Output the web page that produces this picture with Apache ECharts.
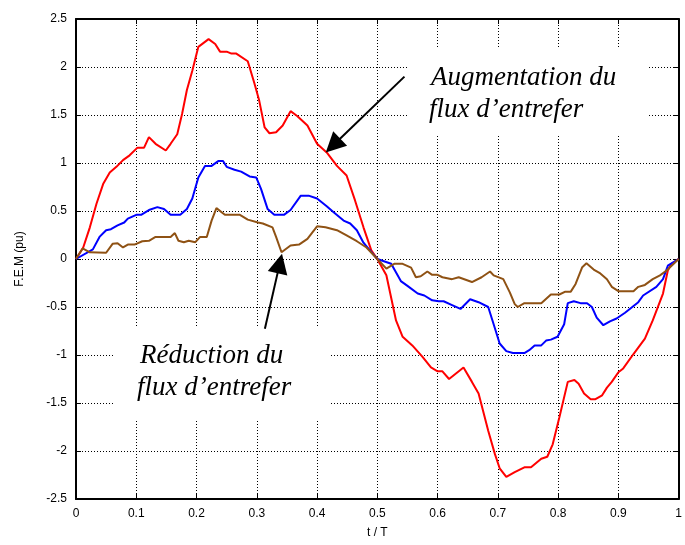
<!DOCTYPE html>
<html><head><meta charset="utf-8">
<script src="https://cdn.jsdelivr.net/npm/echarts/dist/echarts.min.js"></script>
<style>html,body{margin:0;padding:0;background:#fff}#c{width:685px;height:545px}</style>
</head><body><div id="c"></div>
<script>
// ---- data (t/T, F.E.M in pu) ----
const tRed = [0,0.012,0.023,0.034,0.045,0.056,0.067,0.078,0.089,0.102,0.113,0.121,0.132,0.149,0.157,0.168,0.176,0.184,0.193,0.203,0.22,0.231,0.239,0.25,0.258,0.266,0.285,0.296,0.304,0.313,0.321,0.332,0.343,0.356,0.367,0.384,0.40,0.416,0.433,0.449,0.463,0.477,0.49,0.50,0.515,0.531,0.542,0.558,0.575,0.589,0.60,0.608,0.619,0.643,0.657,0.668,0.684,0.695,0.703,0.714,0.728,0.744,0.755,0.772,0.782,0.791,0.802,0.816,0.827,0.834,0.843,0.854,0.862,0.873,0.881,0.889,0.90,0.908,0.925,0.944,0.957,0.974,0.982,0.988,1.0];
const vRed = [0,0.12,0.33,0.575,0.78,0.90,0.96,1.03,1.08,1.16,1.16,1.27,1.20,1.13,1.20,1.30,1.51,1.76,1.96,2.21,2.29,2.24,2.16,2.16,2.14,2.14,2.06,1.83,1.65,1.37,1.31,1.32,1.39,1.54,1.49,1.39,1.20,1.11,0.97,0.87,0.61,0.33,0.09,0,-0.17,-0.64,-0.81,-0.90,-1.02,-1.13,-1.17,-1.17,-1.25,-1.13,-1.28,-1.40,-1.79,-2.03,-2.18,-2.27,-2.22,-2.17,-2.17,-2.08,-2.06,-1.93,-1.65,-1.28,-1.26,-1.30,-1.40,-1.46,-1.46,-1.42,-1.34,-1.28,-1.18,-1.14,-0.99,-0.83,-0.64,-0.36,-0.12,-0.05,0];

const tBlue = [0,0.028,0.039,0.05,0.058,0.069,0.08,0.086,0.10,0.108,0.121,0.135,0.146,0.157,0.173,0.184,0.193,0.203,0.214,0.225,0.236,0.244,0.25,0.263,0.274,0.288,0.299,0.307,0.318,0.329,0.345,0.356,0.373,0.386,0.40,0.416,0.427,0.444,0.455,0.466,0.477,0.493,0.50,0.523,0.539,0.55,0.567,0.578,0.591,0.602,0.61,0.624,0.638,0.654,0.668,0.684,0.693,0.703,0.714,0.725,0.744,0.752,0.761,0.772,0.78,0.788,0.799,0.81,0.816,0.826,0.837,0.848,0.856,0.864,0.875,0.886,0.897,0.911,0.933,0.941,0.963,0.974,0.982,1.0];
const vBlue = [0,0.10,0.23,0.30,0.31,0.35,0.38,0.42,0.46,0.46,0.51,0.54,0.52,0.46,0.46,0.52,0.63,0.85,0.97,0.97,1.02,1.02,0.96,0.93,0.91,0.86,0.85,0.73,0.52,0.46,0.46,0.51,0.66,0.66,0.63,0.55,0.49,0.40,0.37,0.30,0.17,0.05,0,-0.05,-0.23,-0.28,-0.36,-0.38,-0.43,-0.44,-0.44,-0.48,-0.52,-0.42,-0.45,-0.50,-0.68,-0.88,-0.96,-0.98,-0.98,-0.95,-0.90,-0.90,-0.85,-0.84,-0.81,-0.68,-0.46,-0.44,-0.46,-0.46,-0.50,-0.61,-0.69,-0.65,-0.62,-0.56,-0.45,-0.38,-0.29,-0.21,-0.07,0];

const tBrown = [0,0.011,0.023,0.05,0.061,0.069,0.078,0.086,0.097,0.11,0.121,0.132,0.157,0.164,0.17,0.179,0.187,0.198,0.206,0.217,0.225,0.233,0.247,0.258,0.272,0.285,0.302,0.31,0.326,0.332,0.341,0.356,0.37,0.384,0.40,0.414,0.433,0.449,0.466,0.482,0.50,0.515,0.528,0.542,0.556,0.564,0.572,0.583,0.591,0.60,0.608,0.624,0.635,0.657,0.673,0.687,0.693,0.709,0.72,0.728,0.733,0.744,0.772,0.788,0.802,0.812,0.821,0.829,0.84,0.847,0.859,0.87,0.881,0.889,0.90,0.925,0.933,0.944,0.957,0.969,0.98,1.0];
const vBrown = [0,0.11,0.07,0.065,0.16,0.165,0.12,0.15,0.15,0.185,0.19,0.23,0.23,0.27,0.19,0.175,0.19,0.175,0.23,0.23,0.40,0.53,0.46,0.46,0.46,0.41,0.38,0.37,0.33,0.23,0.07,0.14,0.15,0.21,0.34,0.33,0.30,0.245,0.185,0.12,0,-0.10,-0.05,-0.05,-0.09,-0.19,-0.18,-0.13,-0.165,-0.165,-0.19,-0.21,-0.19,-0.24,-0.19,-0.13,-0.17,-0.21,-0.35,-0.47,-0.50,-0.46,-0.46,-0.37,-0.37,-0.34,-0.34,-0.26,-0.085,-0.045,-0.11,-0.15,-0.21,-0.29,-0.335,-0.335,-0.29,-0.27,-0.21,-0.17,-0.12,0];

const xTickLabels = ['0','0.1','0.2','0.3','0.4','0.5','0.6','0.7','0.8','0.9','1'];
const yTickLabels = ['-2.5','-2','-1.5','-1','-0.5','0','0.5','1','1.5','2','2.5'];

// annotations: text lines and arrows (tail -> tip) in data coordinates
const noteUp = ['Augmentation du', 'flux d\u2019entrefer'];
const noteDown = ['R\u00e9duction du', 'flux d\u2019entrefer'];
const arrowUp = [[0.545, 1.90], [0.4144, 1.11]];
const arrowDown = [[0.3134, -0.727], [0.3418, 0.054]];

const pairs = (t, v) => t.map((x, i) => [x, v[i]]);

const chart = echarts.init(document.getElementById('c'), null, {renderer: 'canvas'});
const gridLine = {show: true, lineStyle: {color: '#000', width: 1, type: [1, 2]}};
const axFont = {color: '#000', fontFamily: 'Liberation Sans, Arial, sans-serif', fontSize: 12};

const option = {
  animation: false,
  backgroundColor: '#fff',
  grid: {left: 76, top: 19, width: 610, height: 480, show: false},
  xAxis: [{
    type: 'value', min: 0, max: 1, interval: 0.1,
    axisLine: {show: true, onZero: false, lineStyle: {color: '#000', width: 2}},
    axisTick: {show: true, inside: true, length: 5, lineStyle: {color: '#000', width: 1}},
    axisLabel: Object.assign({margin: 9, formatter: (v) => xTickLabels[Math.round(v * 10)] || ''}, axFont),
    splitLine: gridLine,
    name: 't / T', nameLocation: 'middle', nameGap: 28,
    nameTextStyle: {color: '#000', fontFamily: 'Liberation Sans, Arial, sans-serif', fontSize: 12}
  }, {
    type: 'value', min: 0, max: 1, interval: 0.1, position: 'top',
    axisLine: {show: true, onZero: false, lineStyle: {color: '#000', width: 2}},
    axisTick: {show: true, inside: true, length: 5, lineStyle: {color: '#000'}},
    axisLabel: {show: false}, splitLine: {show: false}
  }],
  yAxis: [{
    type: 'value', min: -2.5, max: 2.5, interval: 0.5,
    axisLine: {show: true, onZero: false, lineStyle: {color: '#000', width: 2}},
    axisTick: {show: true, inside: true, length: 5, lineStyle: {color: '#000', width: 1}},
    axisLabel: Object.assign({margin: 9, formatter: (v) => yTickLabels[Math.round((v + 2.5) * 2)] || ''}, axFont),
    splitLine: gridLine,
    name: 'F.E.M (pu)', nameLocation: 'middle', nameGap: 50,
    nameTextStyle: {color: '#000', fontFamily: 'Liberation Sans, Arial, sans-serif', fontSize: 12}
  }, {
    type: 'value', min: -2.5, max: 2.5, interval: 0.5, position: 'right',
    axisLine: {show: true, onZero: false, lineStyle: {color: '#000', width: 2}},
    axisTick: {show: true, inside: true, length: 5, lineStyle: {color: '#000'}},
    axisLabel: {show: false}, splitLine: {show: false}
  }],
  series: [
    {type: 'line', data: pairs(tRed, vRed), showSymbol: false, lineStyle: {color: '#ff0000', width: 2}, itemStyle: {color: '#ff0000'}, z: 3},
    {type: 'line', data: pairs(tBlue, vBlue), showSymbol: false, lineStyle: {color: '#0000ff', width: 2}, itemStyle: {color: '#0000ff'}, z: 3},
    {type: 'line', data: pairs(tBrown, vBrown), showSymbol: false, lineStyle: {color: '#8f5214', width: 2}, itemStyle: {color: '#8f5214'}, z: 3}
  ]
};
chart.setOption(option);

function arrowGraphics(id, a) {
  const p0 = chart.convertToPixel({gridIndex: 0}, a[0]);
  const p1 = chart.convertToPixel({gridIndex: 0}, a[1]);
  const dx = p1[0] - p0[0], dy = p1[1] - p0[1];
  const L = Math.hypot(dx, dy), ux = dx / L, uy = dy / L;
  const hl = 20, hw = 10;
  const bx = p1[0] - ux * hl, by = p1[1] - uy * hl;
  return [
    {type: 'line', id: id + 'l', z: 10, shape: {x1: p0[0], y1: p0[1], x2: bx + ux * 2, y2: by + uy * 2}, style: {stroke: '#000', lineWidth: 2}},
    {type: 'polygon', id: id + 'h', z: 10, shape: {points: [[p1[0], p1[1]], [bx - uy * hw, by + ux * hw], [bx + uy * hw, by - ux * hw]]}, style: {fill: '#000'}}
  ];
}

const serif = 'italic 27px "Liberation Serif", "Times New Roman", serif';
const graphics = [
  {type: 'rect', id: 'boxUp', z: 1, shape: {x: 407, y: 49, width: 241, height: 86}, style: {fill: '#fff'}},
  {type: 'rect', id: 'boxDown', z: 1, shape: {x: 115, y: 327, width: 215, height: 93}, style: {fill: '#fff'}},
  {type: 'text', id: 'u1', z: 11, style: {text: noteUp[0], x: 431, y: 91, font: serif, fill: '#000', textVerticalAlign: 'bottom'}},
  {type: 'text', id: 'u2', z: 11, style: {text: noteUp[1], x: 429, y: 123, font: serif, fill: '#000', textVerticalAlign: 'bottom'}},
  {type: 'text', id: 'd1', z: 11, style: {text: noteDown[0], x: 140, y: 369, font: serif, fill: '#000', textVerticalAlign: 'bottom'}},
  {type: 'text', id: 'd2', z: 11, style: {text: noteDown[1], x: 137, y: 401, font: serif, fill: '#000', textVerticalAlign: 'bottom'}}
].concat(arrowGraphics('a1', arrowUp), arrowGraphics('a2', arrowDown));
chart.setOption({graphic: graphics});
</script>
</body></html>
